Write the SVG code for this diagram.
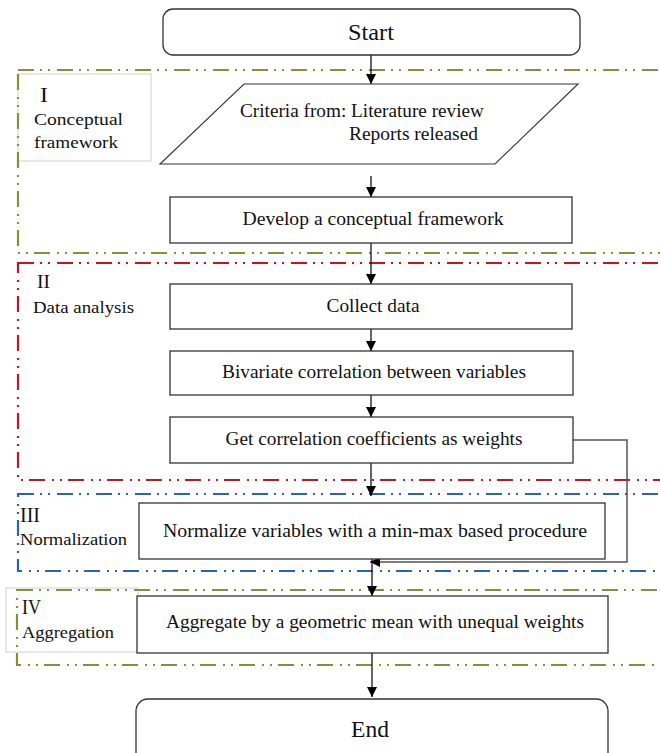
<svg xmlns="http://www.w3.org/2000/svg" width="660" height="753" viewBox="0 0 660 753">
<defs>
<marker id="ah" viewBox="0 0 10 10" refX="10" refY="5" markerWidth="10" markerHeight="11" markerUnits="userSpaceOnUse" orient="auto"><path d="M0,0 L10,5 L0,10 z" fill="#000"/></marker>
</defs>
<style>
text{font-family:"Liberation Serif","Times New Roman",serif;fill:#111}
.box{fill:#fff;stroke:#333;stroke-width:1.3}
.t{font-size:18.5px;text-anchor:middle}
.lbl{font-size:17.5px}
.num{font-size:20px}
.grp{fill:none;stroke-width:2.2;stroke-dasharray:16 6 2 6 2 7}
.lbox{fill:#fff;stroke:#d0d0d0;stroke-width:1}
.conn{fill:none;stroke:#111;stroke-width:1.3}
</style>
<rect width="660" height="753" fill="#fff"/>

<g id="groupI">
<rect class="lbox" x="18" y="74" width="133" height="87"/>
<rect class="grp" x="18" y="70" width="646" height="183" stroke="#82923a"/>
<text class="num" x="40" y="102" textLength="8" lengthAdjust="spacingAndGlyphs">I</text>
<text class="lbl" x="34" y="125" textLength="89" lengthAdjust="spacingAndGlyphs">Conceptual</text>
<text class="lbl" x="34" y="148" textLength="84" lengthAdjust="spacingAndGlyphs">framework</text>
</g>
<g id="groupII">
<rect class="grp" x="18" y="263" width="646" height="217" stroke="#c4161c"/>
<text class="num" x="37" y="288" style="font-size:18px" textLength="13" lengthAdjust="spacingAndGlyphs">II</text>
<text class="lbl" x="33" y="313" textLength="101" lengthAdjust="spacingAndGlyphs">Data analysis</text>
</g>
<g id="groupIII">
<rect class="grp" x="18" y="494" width="646" height="77" stroke="#2a62b8"/>
<text class="num" x="20" y="522" textLength="20" lengthAdjust="spacingAndGlyphs">III</text>
<text class="lbl" x="20" y="545" textLength="107" lengthAdjust="spacingAndGlyphs">Normalization</text>
</g>
<g id="groupIV">
<rect class="lbox" x="6" y="588" width="132" height="64"/>
<rect class="grp" x="17" y="590" width="647" height="75" stroke="#82923a"/>
<text class="num" x="22" y="614" textLength="19" lengthAdjust="spacingAndGlyphs">IV</text>
<text class="lbl" x="22" y="638" textLength="92" lengthAdjust="spacingAndGlyphs">Aggregation</text>
</g>

<g id="connectors">
<line class="conn" x1="371" y1="55" x2="371" y2="84" marker-end="url(#ah)"/>
<line class="conn" x1="371" y1="176" x2="371" y2="197" marker-end="url(#ah)"/>
<line class="conn" x1="371" y1="243" x2="371" y2="284" marker-end="url(#ah)"/>
<line class="conn" x1="371" y1="329" x2="371" y2="351" marker-end="url(#ah)"/>
<line class="conn" x1="371" y1="395" x2="371" y2="417" marker-end="url(#ah)"/>
<line class="conn" x1="371" y1="463" x2="371" y2="496" marker-end="url(#ah)"/>
<polyline class="conn" points="573,440 627,440 627,562 370,562" style="stroke:#555;stroke-width:1.5" marker-end="url(#ah)"/>
<line class="conn" x1="372" y1="559" x2="372" y2="596" marker-end="url(#ah)"/>
<line class="conn" x1="372" y1="653" x2="372" y2="697" marker-end="url(#ah)"/>
</g>

<g id="start">
<rect class="box" x="163" y="9" width="417" height="46" rx="10"/>
<text class="t" x="371" y="40" style="font-size:23px" textLength="46" lengthAdjust="spacingAndGlyphs">Start</text>
</g>
<g id="criteria">
<polygon class="box" points="244,84 578,84 495,164 160,164" style="stroke-width:1.1"/>
<text x="240" y="117" style="font-size:18.5px" textLength="244" lengthAdjust="spacingAndGlyphs">Criteria  from: Literature  review</text>
<text x="349" y="140" style="font-size:18.5px" textLength="129" lengthAdjust="spacingAndGlyphs">Reports released</text>
</g>
<g id="develop">
<rect class="box" x="170" y="197" width="402" height="46"/>
<text class="t" x="373" y="225" textLength="261" lengthAdjust="spacingAndGlyphs">Develop a conceptual  framework</text>
</g>
<g id="collect">
<rect class="box" x="170" y="284" width="402" height="45"/>
<text class="t" x="373" y="312" textLength="93" lengthAdjust="spacingAndGlyphs">Collect data</text>
</g>
<g id="bivariate">
<rect class="box" x="170" y="351" width="403" height="44"/>
<text class="t" x="374" y="378" textLength="304" lengthAdjust="spacingAndGlyphs">Bivariate  correlation  between  variables</text>
</g>
<g id="weights">
<rect class="box" x="170" y="417" width="403" height="46"/>
<text class="t" x="374" y="445" textLength="297" lengthAdjust="spacingAndGlyphs">Get correlation  coefficients as weights</text>
</g>
<g id="normalize">
<rect class="box" x="139" y="503" width="466" height="56"/>
<text class="t" x="375" y="537" textLength="424" lengthAdjust="spacingAndGlyphs">Normalize  variables  with   a min-max  based procedure</text>
</g>
<g id="aggregate">
<rect class="box" x="137" y="596" width="471" height="57"/>
<text class="t" x="375" y="628" textLength="418" lengthAdjust="spacingAndGlyphs">Aggregate  by a geometric  mean with  unequal  weights</text>
</g>
<g id="end">
<rect class="box" x="136" y="699" width="472" height="70" rx="12"/>
<text class="t" x="370" y="737" style="font-size:24px" textLength="38" lengthAdjust="spacingAndGlyphs">End</text>
</g>
</svg>
